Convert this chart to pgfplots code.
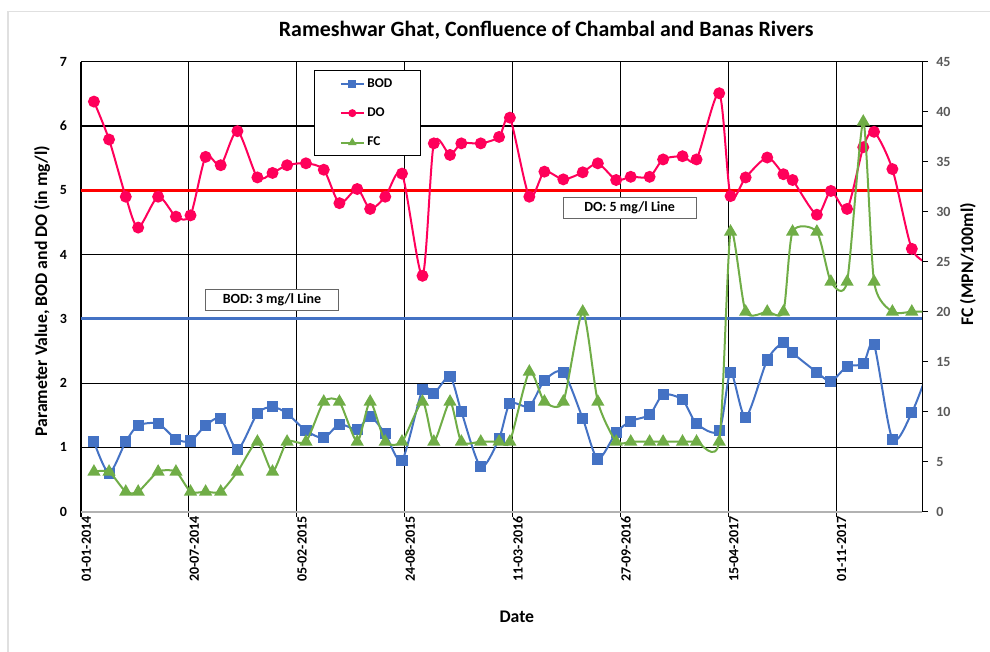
\documentclass[border=0pt]{standalone}
\usepackage{pgfplots}
\usepackage{pgfplotstable}
\pgfplotsset{compat=1.18}
\usepackage{fontspec}
\setmainfont{Carlito}
\definecolor{bodc}{RGB}{68,114,196}
\definecolor{doc}{RGB}{255,0,90}
\definecolor{fcc}{RGB}{112,173,71}
\pgfplotstableread{
d bod do fc
24 1.09 6.38 4
52 0.60 5.79 4
83 1.09 4.90 2
106 1.34 4.42 2
143 1.37 4.90 4
176 1.13 4.59 4
203 1.10 4.61 2
231 1.34 5.52 2
259 1.45 5.39 2
290 0.97 5.92 4
327 1.53 5.20 7
355 1.63 5.27 4
382 1.53 5.39 7
417 1.26 5.42 7
450 1.15 5.32 11
479 1.36 4.80 11
512 1.28 5.02 7
536 1.48 4.71 11
564 1.21 4.90 7
595 0.80 5.26 7
633 1.90 3.67 11
654 1.84 5.73 7
684 2.10 5.55 11
705 1.56 5.73 7
741 0.70 5.73 7
775 1.14 5.83 7
795 1.68 6.13 7
831 1.64 4.90 14
859 2.04 5.29 11
894 2.17 5.17 11
930 1.45 5.28 20
958 0.82 5.42 11
992 1.23 5.16 7
1019 1.41 5.21 7
1054 1.51 5.21 7
1079 1.82 5.48 7
1115 1.74 5.53 7
1141 1.37 5.48 7
1183 1.26 6.51 7
1204 2.17 4.91 28
1232 1.47 5.20 20
1272 2.36 5.51 20
1302 2.63 5.25 20
1319 2.47 5.16 28
1364 2.17 4.62 28
1390 2.03 4.99 23
1420 2.26 4.71 23
1450 2.30 5.67 39
1470 2.60 5.91 23
1504 1.13 5.33 20
1540 1.54 4.09 20
1575 2.30 3.85 20
}\data
\begin{document}
\begin{tikzpicture}
\begin{axis}[
  at={(0,0)}, anchor=south west,
  scale only axis, width=631pt, height=337.5pt,
  xmin=0, xmax=1559.5, ymin=0, ymax=7,
  axis x line*=bottom, axis y line*=left,
  x axis line style={gray!60, line width=1.5pt, -},
  y axis line style={black, line width=1pt, -},
  xtick={0,200,...,1400},
  xticklabels={01-01-2014,20-07-2014,05-02-2015,24-08-2015,11-03-2016,27-09-2016,15-04-2017,01-11-2017},
  ytick={0,1,...,7},
  grid=major, major grid style={black, line width=0.9pt},
  major tick length=0pt,
  /pgf/number format/assume math mode=true,
  xticklabel style={rotate=90, anchor=east, font=\bfseries\fontsize{10.5}{12}\selectfont, yshift=-4pt},
  yticklabel style={font=\bfseries\fontsize{10.5}{12}\selectfont, xshift=-7pt},
  title={Rameshwar Ghat, Confluence of Chambal and Banas Rivers},
  title style={at={(axis description cs:0.553,1.053)}, anchor=center, font=\bfseries\fontsize{16.4}{19}\selectfont},
  xlabel={Date},
  xlabel style={at={(axis description cs:0.518,-0.234)}, anchor=center, font=\bfseries\fontsize{13.3}{15}\selectfont},
  ylabel={Parameter Value, BOD and DO (in mg/l)},
  ylabel style={at={(axis description cs:-0.0464,0.49)}, anchor=center, font=\bfseries\fontsize{13.3}{15}\selectfont},
  legend style={at={(axis description cs:0.277,0.982)}, anchor=north west, draw=black, line width=0.8pt,
    font=\bfseries\fontsize{10}{11}\selectfont, inner xsep=19pt, inner ysep=4pt, row sep=10pt, fill=white},
  legend cell align=left,
  legend image post style={mark size=2.2pt},
]
\addplot[red, line width=2.25pt, forget plot] coordinates {(0,5) (1559.5,5)};
\addplot[bodc, line width=2.25pt, forget plot] coordinates {(0,3) (1559.5,3)};
\addplot[bodc, line width=1.5pt, smooth, tension=0.45, mark=square*, mark size=3.4pt, mark options={fill=bodc, draw=bodc}] table[x=d, y=bod] {\data};
\addlegendentry{BOD}
\addplot[doc, line width=1.5pt, smooth, tension=0.45, mark=*, mark size=3.7pt, mark options={fill=doc, draw=doc}] table[x=d, y=do] {\data};
\addlegendentry{DO}
\addlegendimage{fcc, line width=1.5pt, mark=triangle*, mark options={fill=fcc, draw=fcc}}
\addlegendentry{FC}
\node[draw=black!60, fill=white, line width=0.6pt, minimum width=99.75pt, minimum height=15.75pt, inner sep=0pt, font=\bfseries\fontsize{10.5}{12}\selectfont] at (axis cs:1017,4.73) {DO: 5 mg/l Line};
\node[draw=black!60, fill=white, line width=0.6pt, minimum width=99.75pt, minimum height=15.75pt, inner sep=0pt, font=\bfseries\fontsize{10.5}{12}\selectfont] at (axis cs:354,3.29) {BOD: 3 mg/l Line};
\end{axis}
\begin{axis}[
  at={(0,0)}, anchor=south west,
  scale only axis, width=631pt, height=337.5pt,
  xmin=0, xmax=1559.5, ymin=0, ymax=45,
  axis x line*=bottom, axis y line*=right,
  x axis line style={gray!60, line width=1.5pt, -},
  y axis line style={black, line width=1pt, -},
  xtick={0,200,...,1400}, xticklabels={},
  ytick={0,5,...,45},
  tick align=outside, major tick length=4pt,
  tick style={black, line width=0.8pt},
  /pgf/number format/assume math mode=true,
  yticklabel style={text=black!65, font=\bfseries\fontsize{10.5}{12}\selectfont, xshift=3pt},
  ylabel={FC (MPN/100ml)},
  ylabel style={at={(axis description cs:1.054,0.55)}, anchor=center, font=\bfseries\fontsize{13.3}{15}\selectfont},
]
\addplot[fcc, line width=1.5pt, smooth, tension=0.4, mark=triangle*, mark size=4.2pt, mark options={fill=fcc, draw=fcc}] table[x=d, y=fc] {\data};
\end{axis}
\draw[black!12, line width=0.8pt] (-54.75pt,-105.2pt) -- (-54.75pt,375.5pt) -- (681.75pt,375.5pt);
\pgfresetboundingbox
\useasboundingbox (-60.75pt,-105.2pt) rectangle (681.75pt,383.8pt);
\end{tikzpicture}
\end{document}
